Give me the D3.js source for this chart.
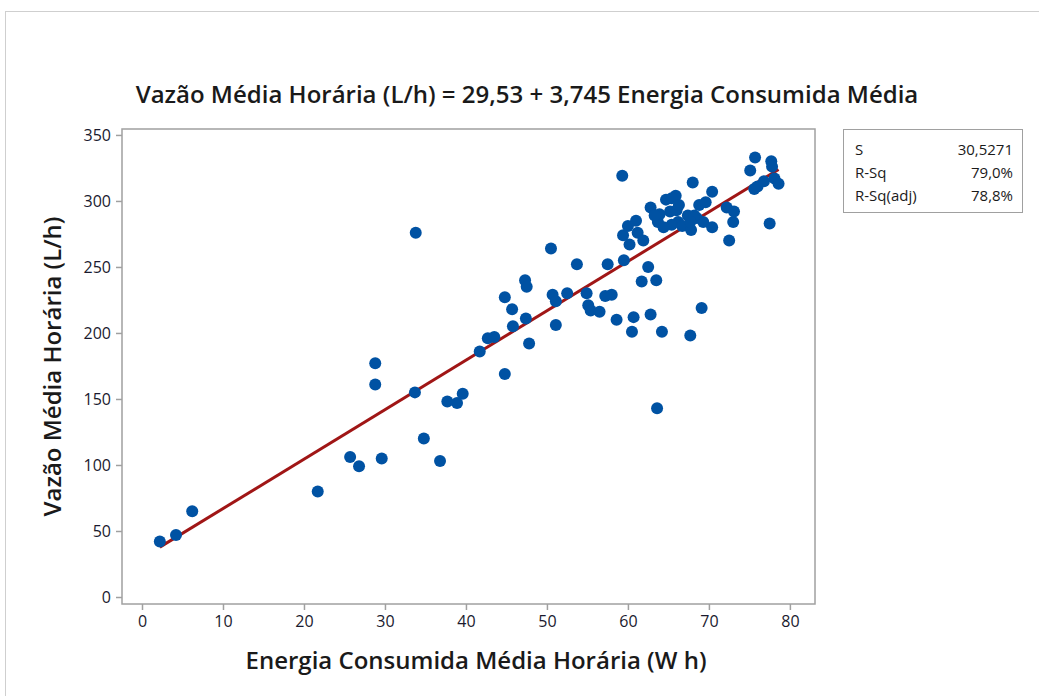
<!DOCTYPE html>
<html>
<head>
<meta charset="utf-8">
<script src="https://cdn.jsdelivr.net/npm/d3@7"></script>
<style>
  body { margin: 0; background: #fff; }
  svg text { font-family: "Open Sans", "Noto Sans", sans-serif; }
</style>
</head>
<body>
<div id="chart"></div>
<script>
// energy (W h) per point
var energia = [2.2, 4.2, 6.2, 21.7, 25.7, 26.8, 29.6, 28.8, 28.8, 33.8,
  33.7, 34.8, 36.8, 37.7, 38.9, 39.6, 41.7, 42.7, 43.5, 44.8,
  45.7, 45.8, 44.8, 47.3, 47.5, 47.4, 47.8, 50.5, 50.7, 51.1,
  51.1, 52.5, 53.7, 54.9, 55.1, 55.4, 56.5, 57.2, 57.5, 58.0,
  58.6, 59.3, 59.5, 59.4, 60.0, 60.2, 60.5, 60.7, 61.0, 61.2,
  61.7, 61.9, 62.5, 62.8, 62.8, 63.5, 63.6, 63.7, 64.2, 64.7,
  65.2, 65.9, 66.0, 66.2, 65.4, 66.7, 67.7, 68.0, 68.5, 68.8,
  69.1, 69.3, 69.6, 70.4, 70.4, 72.2, 72.5, 73.0, 73.1, 75.1,
  75.7, 76.0, 76.8, 77.5, 77.7, 77.8, 78.1, 78.6, 63.9, 67.4,
  67.8, 64.4, 65.4, 75.6, 68.2, 63.3, 66.3, 67.7];
// flow (L/h) per point
var vazao = [42, 47, 65, 80, 106, 99, 105, 177, 161, 276,
  155, 120, 103, 148, 147, 154, 186, 196, 197, 227,
  218, 205, 169, 240, 235, 211, 192, 264, 229, 224,
  206, 230, 252, 230, 221, 217, 216, 228, 252, 229,
  210, 319, 255, 274, 281, 267, 201, 212, 285, 276,
  239, 270, 250, 214, 295, 240, 143, 284, 201, 301,
  292, 304, 293, 284, 282, 281, 198, 314, 287, 297,
  219, 284, 299, 307, 280, 295, 270, 284, 292, 323,
  333, 311, 315, 283, 330, 326, 317, 313, 290, 289,
  278, 280, 302, 309, 289, 289, 297, 284];

var xTicks = [0, 10, 20, 30, 40, 50, 60, 70, 80];
var yTicks = [0, 50, 100, 150, 200, 250, 300, 350];
var intercept = 29.53, slope = 3.745;
var statNames = ["S", "R-Sq", "R-Sq(adj)"];
var statValues = ["30,5271", "79,0%", "78,8%"];

var width = 1039, height = 696;
// plot frame edges
var pLeft = 122, pRight = 815, pTop = 129, pBottom = 604;

var svg = d3.select("#chart").append("svg")
    .attr("width", width)
    .attr("height", height);

// outer graph frame
svg.append("rect")
    .attr("x", 5.5).attr("y", 11.5)
    .attr("width", 1100).attr("height", 800)
    .attr("fill", "none")
    .attr("stroke", "#cfcfcf");

var x = d3.scaleLinear().domain([-2.47, 83.1]).range([pLeft, pRight]);
var y = d3.scaleLinear().domain([-5.3, 354.5]).range([pBottom, pTop]);

// plot frame
svg.append("rect")
    .attr("x", pLeft).attr("y", pTop)
    .attr("width", pRight - pLeft).attr("height", pBottom - pTop)
    .attr("fill", "none")
    .attr("stroke", "#a0a0a0")
    .attr("stroke-width", 1.5);

var xAxis = svg.append("g")
    .attr("transform", "translate(0," + pBottom + ")")
    .call(d3.axisBottom(x).tickValues(xTicks).tickSize(6).tickPadding(6));
var yAxis = svg.append("g")
    .attr("transform", "translate(" + pLeft + ",0)")
    .call(d3.axisLeft(y).tickValues(yTicks).tickSize(6).tickPadding(5));

[xAxis, yAxis].forEach(function(ax) {
    ax.select(".domain").remove();
    ax.selectAll(".tick line").attr("stroke", "#a0a0a0").attr("stroke-width", 1.5);
    ax.selectAll(".tick text")
        .attr("fill", "#1a1a2e")
        .style("font-size", "16px")
        .style("font-weight", 500);
});

// fitted line
var xmin = d3.min(energia), xmax = d3.max(energia);
svg.append("line")
    .attr("x1", x(xmin)).attr("y1", y(intercept + slope * xmin))
    .attr("x2", x(xmax)).attr("y2", y(intercept + slope * xmax))
    .attr("stroke", "#a01616")
    .attr("stroke-width", 3);

// points
svg.append("g").selectAll("circle")
    .data(energia)
    .enter()
    .append("circle")
    .attr("cx", function(d) { return x(d); })
    .attr("cy", function(d, i) { return y(vazao[i]); })
    .attr("r", 6)
    .attr("fill", "#0052a3");

// title
svg.append("text")
    .attr("x", 527).attr("y", 103)
    .attr("text-anchor", "middle")
    .attr("fill", "#1a1a1a")
    .style("font-size", "24px")
    .style("font-weight", 600)
    .text("Vazão Média Horária (L/h) = 29,53 + 3,745 Energia Consumida Média");

// axis labels
svg.append("text")
    .attr("x", 476).attr("y", 669)
    .attr("text-anchor", "middle")
    .attr("fill", "#1a1a1a")
    .style("font-size", "24px")
    .style("font-weight", 600)
    .text("Energia Consumida Média Horária (W h)");

svg.append("text")
    .attr("transform", "translate(61," + ((pTop + pBottom) / 2) + ") rotate(-90)")
    .attr("text-anchor", "middle")
    .attr("fill", "#1a1a1a")
    .style("font-size", "24px")
    .style("font-weight", 600)
    .text("Vazão Média Horária (L/h)");

// stats box
var box = svg.append("g");
box.append("rect")
    .attr("x", 843.5).attr("y", 129.5)
    .attr("width", 179).attr("height", 83)
    .attr("fill", "#fff")
    .attr("stroke", "#a0a0a0");
statNames.forEach(function(n, i) {
    box.append("text")
        .attr("x", 855).attr("y", 155 + i * 23)
        .attr("fill", "#1a1a1a")
        .style("font-size", "15px")
        .style("font-weight", 500)
        .text(n);
    box.append("text")
        .attr("x", 1013).attr("y", 155 + i * 23)
        .attr("text-anchor", "end")
        .attr("fill", "#1a1a1a")
        .style("font-size", "15px")
        .style("font-weight", 500)
        .text(statValues[i]);
});
</script>
</body>
</html>
